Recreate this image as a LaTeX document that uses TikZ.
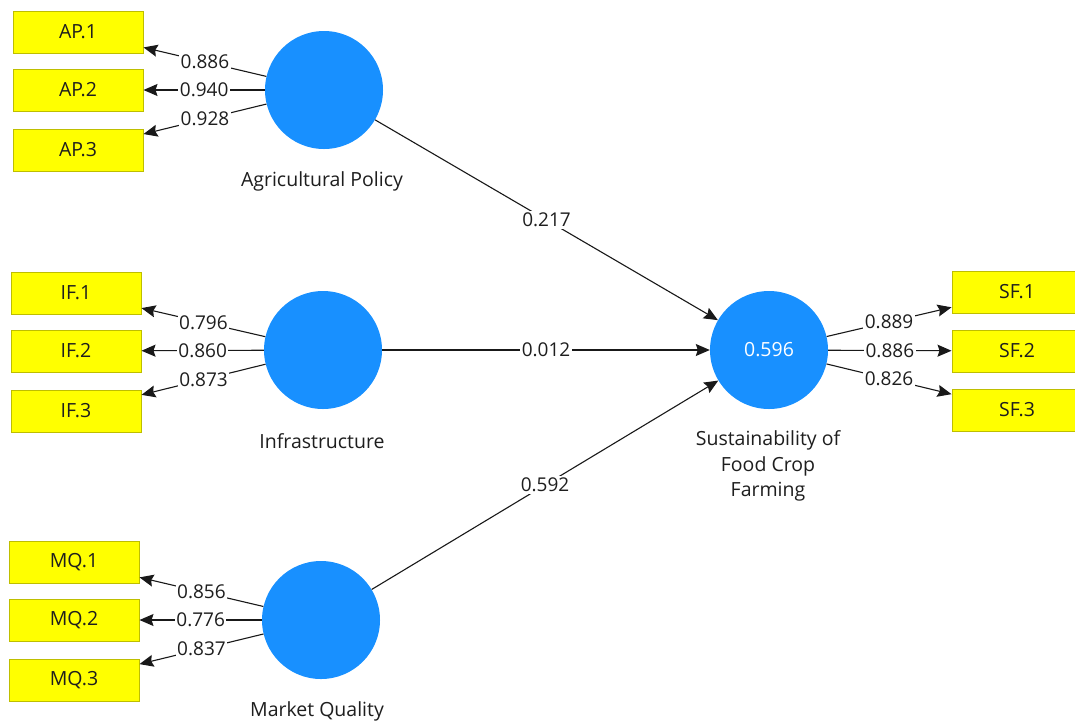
\documentclass[tikz,border=0pt]{standalone}
\usepackage{fontspec}
\setmainfont{Open Sans}
\usetikzlibrary{arrows.meta}
\definecolor{lvblue}{RGB}{24,144,255}
\definecolor{boxborder}{RGB}{190,190,0}
\definecolor{boxfill}{RGB}{255,255,0}
\definecolor{txt}{RGB}{30,30,30}
\definecolor{linecol}{RGB}{25,25,25}
\begin{document}
\begin{tikzpicture}[x=1pt,y=-1pt,
  every node/.style={font=\fontsize{19.5}{22}\selectfont, text=txt},
  lv/.style={circle, fill=lvblue, minimum size=118pt, inner sep=0pt},
  ind/.style={rectangle, fill=boxfill, draw=boxborder, line width=1pt, minimum width=130pt, minimum height=42pt, inner sep=0pt},
  lvcap/.style={align=center, inner sep=0pt},
  ld/.style={fill=white, inner sep=1.5pt, font=\fontsize{19}{22}\selectfont},
  arr/.style={-{Stealth[length=14pt,width=12pt,inset=2pt]}, line width=1.1pt, draw=linecol}]
\useasboundingbox (0,0) rectangle (1075,724);
\fill[white] (0,0) rectangle (1075,724);
% latent variables
\node[lv] (AP) at (324,90) {};
\node[lv] (IF) at (323,350) {};
\node[lv] (MQ) at (321,620) {};
\node[lv, text=white] (SF) at (769,350) {0.596};
% captions
\node[lvcap] (capAP) at (322,181) {Agricultural Policy};
\node[lvcap] (capIF) at (322,441) {Infrastructure};
\node[lvcap] (capMQ) at (317,711) {Market Quality};
\node[lvcap, font=\fontsize{19.5}{25.5}\selectfont] (capSF) at (768,466) {Sustainability of\\Food Crop\\Farming};
% indicators
\node[ind] (AP1) at (78,32) {AP.1};
\node[ind] (AP2) at (78,90) {AP.2};
\node[ind] (AP3) at (78,150) {AP.3};
\node[ind] (IF1) at (76,293) {IF.1};
\node[ind] (IF2) at (76,351) {IF.2};
\node[ind] (IF3) at (76,411) {IF.3};
\node[ind] (MQ1) at (74,562) {MQ.1};
\node[ind] (MQ2) at (74,620) {MQ.2};
\node[ind] (MQ3) at (74,680) {MQ.3};
\node[ind] (SF1) at (1017,292) {SF.1};
\node[ind] (SF2) at (1017,351) {SF.2};
\node[ind] (SF3) at (1017,410) {SF.3};
% loadings
\draw[arr] (AP) -- node[ld] {0.886} (AP1);
\draw[arr] (AP) -- node[ld] {0.940} (AP2);
\draw[arr] (AP) -- node[ld] {0.928} (AP3);
\draw[arr] (IF) -- node[ld] {0.796} (IF1);
\draw[arr] (IF) -- node[ld] {0.860} (IF2);
\draw[arr] (IF) -- node[ld] {0.873} (IF3);
\draw[arr] (MQ) -- node[ld] {0.856} (MQ1);
\draw[arr] (MQ) -- node[ld] {0.776} (MQ2);
\draw[arr] (MQ) -- node[ld] {0.837} (MQ3);
\draw[arr] (SF) -- node[ld] {0.889} (SF1);
\draw[arr] (SF) -- node[ld] {0.886} (SF2);
\draw[arr] (SF) -- node[ld] {0.826} (SF3);
% paths
\draw[arr] (AP) -- node[ld] {0.217} (SF);
\draw[arr] (IF) -- node[ld] {0.012} (SF);
\draw[arr] (MQ) -- node[ld] {0.592} (SF);
\end{tikzpicture}
\end{document}
